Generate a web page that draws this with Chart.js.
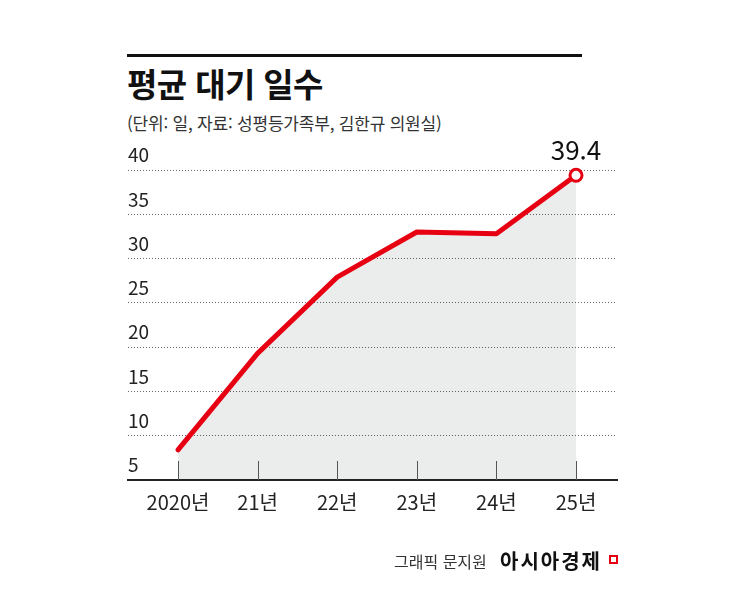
<!DOCTYPE html>
<html lang="ko">
<head>
<meta charset="utf-8">
<script src="https://cdn.jsdelivr.net/npm/chart.js@4"></script>
<style>
  body { margin: 0; background: #fff; }
  #wrap { position: relative; width: 745px; height: 596px; overflow: hidden; font-family: "Noto Sans CJK KR", "Noto Sans", sans-serif; color: #111; }
  #rule { position: absolute; left: 127px; top: 54px; width: 455px; height: 2.5px; background: #111; }
  #title { position: absolute; left: 127px; top: 67px; font-size: 33px; line-height: 1; font-weight: 700; letter-spacing: -0.6px; white-space: nowrap; }
  #sub { position: absolute; left: 127px; top: 114px; font-size: 17px; line-height: 1; letter-spacing: -0.2px; color: #333; white-space: nowrap; }
  #credit { position: absolute; left: 394px; top: 553px; font-size: 16px; line-height: 1; color: #333; white-space: nowrap; }
  #credit b { position: absolute; left: 106px; top: -2px; font-size: 20px; color: #111; letter-spacing: 2px; }
  #flag { position: absolute; left: 609px; top: 555px; width: 5px; height: 5px; border: 2px solid #e60012; }
  #c { position: absolute; left: 0; top: 0; }
</style>
</head>
<body>
<div id="wrap">
  <div id="rule"></div>
  <div id="title">평균 대기 일수</div>
  <div id="sub">(단위: 일, 자료: 성평등가족부, 김한규 의원실)</div>
  <canvas id="c" width="745" height="596"></canvas>
  <div id="credit">그래픽 문지원<b>아시아경제</b></div>
  <div id="flag"></div>
</div>
<script>
// --- données ---
const yearLabels = ['2020년', '21년', '22년', '23년', '24년', '25년'];
const waitDays = [8.4, 19.3, 27.9, 33.0, 32.8, 39.4];
const yTicks = [5, 10, 15, 20, 25, 30, 35, 40];

const RED = '#e60012';
const lastIdx = waitDays.length - 1;

// petits traits verticaux au pied de chaque année + étiquette de la dernière valeur
const extras = {
    id: 'extras',
    afterDatasetsDraw(chart) {
        const {ctx, scales: {x, y}} = chart;
        ctx.save();
        ctx.strokeStyle = '#555';
        ctx.lineWidth = 1;
        yearLabels.forEach((_, i) => {
            const px = Math.round(x.getPixelForValue(i)) + 0.5;
            ctx.beginPath();
            ctx.moveTo(px, y.getPixelForValue(5) - 19);
            ctx.lineTo(px, y.getPixelForValue(5));
            ctx.stroke();
        });
        const pt = chart.getDatasetMeta(0).data[lastIdx];
        ctx.fillStyle = '#111';
        ctx.font = '400 26px "Noto Sans CJK KR"';
        ctx.textAlign = 'center';
        ctx.textBaseline = 'middle';
        ctx.fillText(waitDays[lastIdx].toFixed(1), pt.x, pt.y - 25);
        ctx.restore();
    }
};

new Chart(document.getElementById('c'), {
    type: 'line',
    data: {
        datasets: [{
            data: waitDays.map((v, i) => ({x: i, y: v})),
            borderColor: RED,
            borderWidth: 5,
            borderCapStyle: 'round',
            borderJoinStyle: 'round',
            backgroundColor: 'rgba(20,40,40,0.085)',
            fill: 'start',
            tension: 0,
            clip: false,
            pointRadius: waitDays.map((_, i) => i === lastIdx ? 6 : 0),
            pointBackgroundColor: '#fff',
            pointBorderColor: RED,
            pointBorderWidth: 3
        }]
    },
    options: {
        responsive: false,
        animation: false,
        layout: { padding: { left: 128, right: 128, top: 170, bottom: 72 } },
        plugins: { legend: { display: false }, tooltip: { enabled: false } },
        scales: {
            x: {
                type: 'linear',
                min: -0.628,
                max: 5.515,
                afterBuildTicks: (s) => { s.ticks = yearLabels.map((_, i) => ({value: i})); },
                grid: { display: false, drawTicks: false },
                border: { display: true, color: '#222', width: 2 },
                ticks: {
                    autoSkip: false,
                    maxRotation: 0,
                    padding: 10,
                    color: '#222',
                    font: { family: 'Noto Sans CJK KR', size: 20 },
                    callback: (v, i) => yearLabels[i]
                }
            },
            y: {
                min: 5,
                max: 40,
                afterBuildTicks: (s) => { s.ticks = yTicks.map(v => ({value: v})); },
                grid: {
                    drawTicks: false,
                    color: (c) => c.tick && c.tick.value === 5 ? 'rgba(0,0,0,0)' : '#666',
                    lineWidth: 1
                },
                border: { display: false, dash: [1, 2] },
                ticks: {
                    mirror: true,
                    padding: 0,
                    labelOffset: -15,
                    color: '#222',
                    font: { family: 'Noto Sans CJK KR', size: 19 }
                }
            }
        }
    },
    plugins: [extras]
});
</script>
</body>
</html>
